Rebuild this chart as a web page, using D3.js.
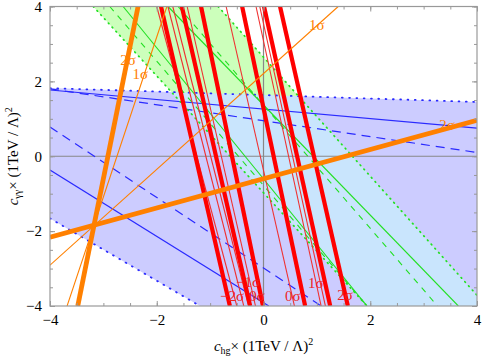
<!DOCTYPE html>
<html>
<head>
<meta charset="utf-8">
<script src="https://cdn.jsdelivr.net/npm/d3@7"></script>
<style>
  body { margin: 0; background: #fff; }
  text { font-family: "Liberation Serif", "DejaVu Serif", serif; }
</style>
</head>
<body>
<div id="chart"></div>
<script>
// data, in chart units: each line is [x1, y1, x2, y2]
const blueBand = [[-4, 1.82], [4, 1.45], [4, -4], [-1.19, -4], [-4, -1.66]];
const greenBand = [[-3.19, 4], [-0.85, 4], [4, -3.71], [4, -4], [1.94, -4]];

const blueLines = [
  { p: [-4, 1.82, 4, 1.45], style: "dot" },
  { p: [-4, 1.77, 4, 0.75], style: "solid" },
  { p: [-4, 1.80, 4, 0.10], style: "dash" },
  { p: [-4, 0.78, 1.08, -4], style: "dash" },
  { p: [-4, -0.37, 0.10, -4], style: "solid" },
  { p: [-4, -1.66, -1.19, -4], style: "dot" }
];
const greenLines = [
  { p: [-3.19, 4, 1.94, -4], style: "dot" },
  { p: [-2.88, 4, 1.94, -4], style: "dash" },
  { p: [-2.63, 4, 1.94, -4], style: "solid" },
  { p: [-1.79, 4, 3.65, -4], style: "solid" },
  { p: [-1.60, 4, 3.26, -4], style: "dash" },
  { p: [-0.85, 4, 4.18, -4], style: "dot" }
];
const redThick = [
  [-1.92, 4, -0.63, -4],
  [-1.53, 4, -0.25, -4],
  [-1.17, 4, -0.01, -4],
  [-0.40, 4, 0.78, -4],
  [0.01, 4, 1.25, -4],
  [0.31, 4, 1.58, -4]
];
const redThin = [
  [-2.00, 4, -0.50, -4],
  [-1.79, 4, -0.37, -4],
  [-1.70, 4, -0.28, -4],
  [-1.43, 4, -0.15, -4],
  [-0.70, 4, 0.58, -4],
  [-0.14, 4, 1.08, -4],
  [-0.07, 4, 1.16, -4]
];
const orangeThick = [
  [-4, -2.16, 4, 0.96],
  [-2.35, 4, -3.48, -4]
];
const orangeThin = [
  [-1.81, 4, -3.68, -4],
  [-4, -2.91, 1.40, 4]
];
const redLabels = [
  { t: "\u22121\u03c3", x: -0.29, y: -3.34 },
  { t: "\u22122\u03c3", x: -0.59, y: -3.73 },
  { t: "0\u03c3", x: -0.12, y: -3.73 },
  { t: "0\u03c3", x: 0.55, y: -3.73 },
  { t: "1\u03c3", x: 0.98, y: -3.37 },
  { t: "2\u03c3", x: 1.53, y: -3.71 }
];
const orangeLabels = [
  { t: "2\u03c3", x: -2.54, y: 2.58 },
  { t: "1\u03c3", x: -2.31, y: 2.20 },
  { t: "1\u03c3", x: 1.00, y: 3.51 },
  { t: "2\u03c3", x: 3.44, y: 0.83 }
];
const majorTicks = [-4, -2, 0, 2, 4];
const minorTicks = d3.range(-4, 4.01, 0.5);

const W = 482, H = 359;
const margin = { top: 6.5, right: 5, bottom: 53, left: 50 };
const x = d3.scaleLinear().domain([-4, 4]).range([margin.left, W - margin.right]);
const y = d3.scaleLinear().domain([-4, 4]).range([H - margin.bottom, margin.top]);

const svg = d3.select("#chart").append("svg").attr("width", W).attr("height", H);

svg.append("clipPath").attr("id", "plot")
  .append("rect")
  .attr("x", x(-4)).attr("y", y(4))
  .attr("width", x(4) - x(-4)).attr("height", y(-4) - y(4));
svg.append("clipPath").attr("id", "blueclip")
  .append("polygon")
  .attr("points", blueBand.map(d => [x(d[0]), y(d[1])].join(",")).join(" "));

const g = svg.append("g").attr("clip-path", "url(#plot)");

const poly = pts => pts.map(d => [x(d[0]), y(d[1])].join(",")).join(" ");

// shaded bands
g.append("polygon").attr("points", poly(blueBand)).attr("fill", "#ccccff");
g.append("polygon").attr("points", poly(greenBand)).attr("fill", "#ccffbb");
g.append("g").attr("clip-path", "url(#blueclip)")
  .append("polygon").attr("points", poly(greenBand)).attr("fill", "#c9e5fd");

// zero lines
g.append("line").attr("x1", x(-4)).attr("x2", x(4)).attr("y1", y(0)).attr("y2", y(0))
  .attr("stroke", "#888").attr("stroke-width", 1.2);
g.append("line").attr("x1", x(0)).attr("x2", x(0)).attr("y1", y(-4)).attr("y2", y(4))
  .attr("stroke", "#888").attr("stroke-width", 1.2);

function drawLines(data, color, width, dashFor) {
  g.append("g").selectAll("line")
    .data(data)
    .enter()
    .append("line")
    .attr("x1", d => x((d.p || d)[0]))
    .attr("y1", d => y((d.p || d)[1]))
    .attr("x2", d => x((d.p || d)[2]))
    .attr("y2", d => y((d.p || d)[3]))
    .attr("stroke", color)
    .attr("stroke-width", d => d.style === "dot" ? width + 0.6 : width)
    .attr("stroke-dasharray", d => dashFor ? dashFor(d.style) : null)
    .attr("stroke-linecap", d => d.style === "dot" ? "round" : "butt");
}

drawLines(blueLines, "#2a2aff", 1.2, s => s === "dash" ? "9,6" : s === "dot" ? "0.8,6.5" : null);
drawLines(greenLines, "#22e022", 1.1, s => s === "dash" ? "6,6" : s === "dot" ? "0.8,4.8" : null);
drawLines(redThin, "#f03030", 1.1);
drawLines(redThick, "#ff0000", 4.2);
drawLines(orangeThin, "#ff8000", 1.1);
drawLines(orangeThick, "#ff8000", 4.8);

// labels
function drawLabels(data, color) {
  svg.append("g").selectAll("text")
    .data(data)
    .enter()
    .append("text")
    .attr("x", d => x(d.x))
    .attr("y", d => y(d.y))
    .attr("dy", "0.35em")
    .attr("text-anchor", "middle")
    .attr("fill", color)
    .style("font-size", "15px")
    .text(d => d.t);
}
drawLabels(redLabels, "#ee2222");
drawLabels(orangeLabels, "#ff8000");

// frame and ticks
svg.append("rect")
  .attr("x", x(-4)).attr("y", y(4))
  .attr("width", x(4) - x(-4)).attr("height", y(-4) - y(4))
  .attr("fill", "none").attr("stroke", "#999").attr("stroke-width", 1.2);

function axis(gen, transform, scale, labels) {
  const minor = svg.append("g").attr("transform", transform)
    .call(gen(scale).tickValues(minorTicks).tickSize(-3).tickFormat(""));
  const major = svg.append("g").attr("transform", transform)
    .call(gen(scale).tickValues(majorTicks).tickSize(-5).tickPadding(8)
      .tickFormat(labels ? d3.format("") : ""));
  [minor, major].forEach(a => {
    a.select(".domain").remove();
    a.selectAll("line").attr("stroke", "#999");
    a.selectAll("text").attr("fill", "#000").style("font-size", "15px")
      .style("font-family", "'Liberation Serif', serif");
  });
}
axis(d3.axisBottom, `translate(0,${y(-4)})`, x, true);
axis(d3.axisTop, `translate(0,${y(4)})`, x, false);
axis(d3.axisLeft, `translate(${x(-4)},0)`, y, true);
axis(d3.axisRight, `translate(${x(4)},0)`, y, false);

// axis titles
const xt = svg.append("text")
  .attr("x", (x(-4) + x(4)) / 2).attr("y", 351)
  .attr("text-anchor", "middle").style("font-size", "15px");
xt.append("tspan").style("font-style", "italic").text("c");
xt.append("tspan").attr("dy", 3).style("font-size", "10px").text("hg");
xt.append("tspan").attr("dy", -3).text("\u00d7 (1TeV / \u039b)");
xt.append("tspan").attr("dy", -6).style("font-size", "10px").text("2");

const yt = svg.append("text")
  .attr("transform", `translate(18,${(y(-4) + y(4)) / 2}) rotate(-90)`)
  .attr("text-anchor", "middle").style("font-size", "15px");
yt.append("tspan").style("font-style", "italic").text("c");
yt.append("tspan").attr("dy", 3).style("font-size", "10px").text("\u03b3\u03b3");
yt.append("tspan").attr("dy", -3).text("\u00d7 (1TeV / \u039b)");
yt.append("tspan").attr("dy", -6).style("font-size", "10px").text("2");
</script>
</body>
</html>
